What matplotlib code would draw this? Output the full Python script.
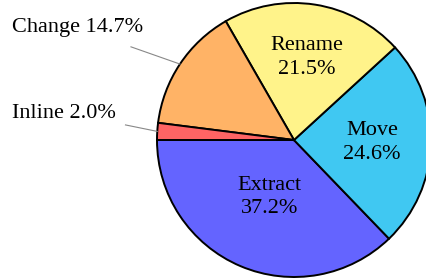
import matplotlib
matplotlib.use("Agg")
import matplotlib.pyplot as plt
import numpy as np

labels = ["Extract", "Move", "Rename", "Change", "Inline"]
values = [37.2, 24.6, 21.5, 14.7, 2.0]
colors = ["#6464ff", "#40c8f2", "#fff38a", "#ffb366", "#ff6464"]
inside = [True, True, True, False, False]
label_dist = [0.45, 0.57, 0.61, None, None]

plt.rcParams['font.family'] = ['Liberation Serif', 'DejaVu Serif']

fig = plt.figure(figsize=(4.27, 2.8), dpi=100)
ax = fig.add_axes([0, 0, 1, 1])
r_px = 137.0
cx, cy = 294.0, 140.0

wedges, _ = ax.pie(values, colors=colors, startangle=180, counterclock=True,
                   radius=1.0, center=(0, 0),
                   wedgeprops=dict(edgecolor='black', linewidth=1.4))
ax.set_xlim(-cx / r_px, (427 - cx) / r_px)
ax.set_ylim(-cy / r_px, (280 - cy) / r_px)
ax.set_aspect('equal')
ax.axis('off')

fs = 16
outside_text = {"Change": ((-1.10, 0.82), (-1.19, 0.68)),
                "Inline": ((-1.30, 0.19), (-1.23, 0.11))}
for w, lab, v, ins, d in zip(wedges, labels, values, inside, label_dist):
    mid = np.deg2rad((w.theta1 + w.theta2) / 2)
    txt = f"{lab}\n{v:.1f}%"
    if ins:
        ax.text(d * np.cos(mid), d * np.sin(mid), txt, ha='center', va='center',
                fontsize=fs, linespacing=1.3)
    else:
        (tx, ty), (lx, ly) = outside_text[lab]
        ex, ey = np.cos(mid), np.sin(mid)
        ax.plot([ex, lx], [ey, ly], color='#888888', lw=0.8)
        ax.text(tx, ty, f"{lab} {v:.1f}%", ha='right', va='center', fontsize=fs)

fig.savefig("out.png", dpi=100)
